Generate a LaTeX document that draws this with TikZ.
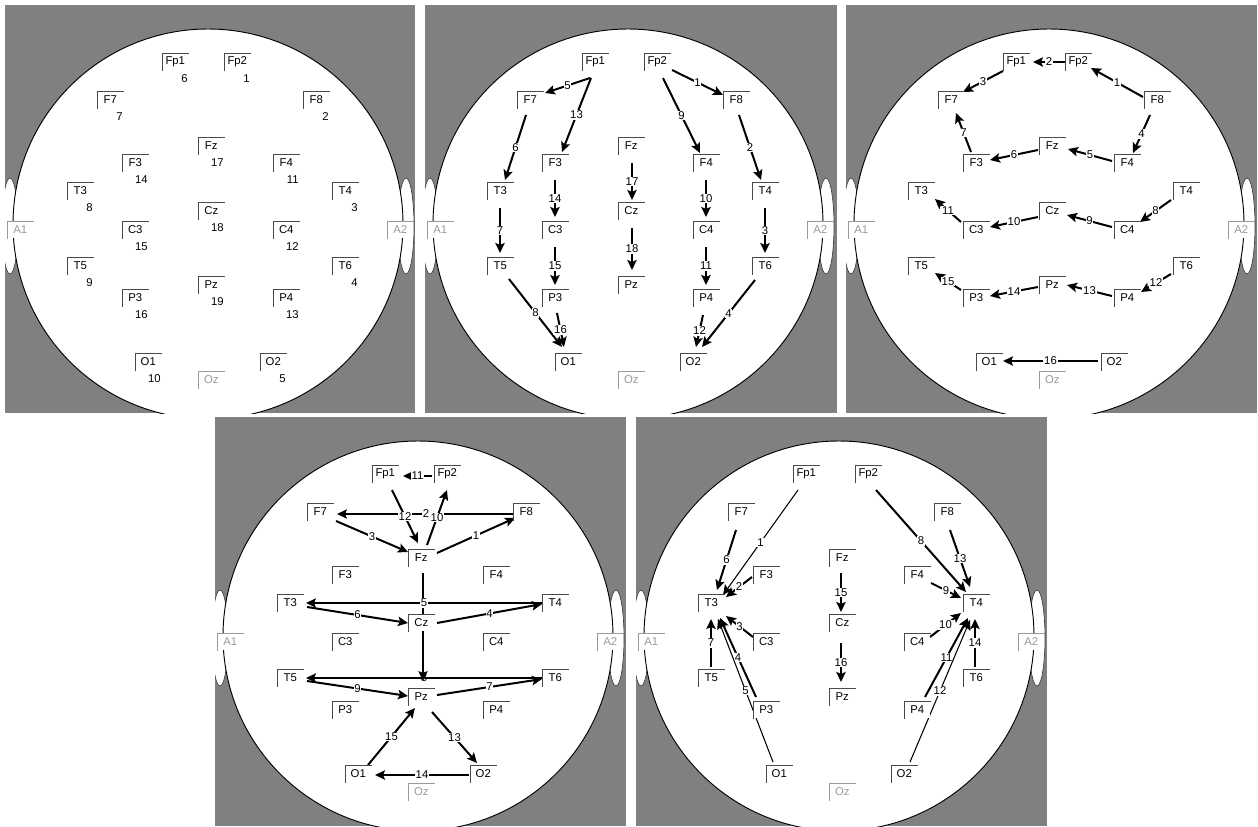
\documentclass[tikz,border=0pt]{standalone}
\usepackage{fontspec}
\setmainfont{Liberation Sans}
\usetikzlibrary{calc,arrows.meta}
\pgfdeclarelayer{back}
\pgfdeclarelayer{mid}
\pgfsetlayers{back,mid,main}
\definecolor{panelgray}{HTML}{808080}
\definecolor{dimtext}{HTML}{9A9A9A}
\definecolor{framecol}{HTML}{4A4A4A}

\newcommand\defpos[2]{\expandafter\def\csname bx#1\endcsname{#2}}
\defpos{Fp1}{157,48}\defpos{Fp2}{219,48}
\defpos{F7}{92,86}\defpos{F8}{298,86}
\defpos{Fz}{193,132}\defpos{F3}{117,149}\defpos{F4}{268,149}
\defpos{T3}{62,177}\defpos{T4}{327,177}
\defpos{Cz}{193,197}\defpos{C3}{117,216}\defpos{C4}{268,216}
\defpos{A1}{2,216}\defpos{A2}{382,216}
\defpos{T5}{62,252}\defpos{T6}{327,252}
\defpos{Pz}{193,271}\defpos{P3}{117,284}\defpos{P4}{268,284}
\defpos{O1}{130,348}\defpos{O2}{255,348}\defpos{Oz}{193,366}

\tikzset{
  x=0.75pt, y=-0.75pt,
  elec/.style={anchor=north west, minimum width=19.5pt, minimum height=12.75pt,
    inner sep=0pt, fill=white, font=\fontsize{8.5}{10}\selectfont, text=black},
  elecdim/.style={elec, text=dimtext},
  frame/.style={draw=framecol, line width=0.7pt},
  framedim/.style={draw=dimtext, line width=0.7pt},
  arr/.style={draw=black, line width=1.5pt, -{Stealth[length=7.5pt,width=7pt,inset=1.5pt]}},
  thinarr/.style={line width=0.8pt},
  lab/.style={fill=white, inner sep=0.6pt, font=\fontsize{8.5}{10}\selectfont, text=black},
  nofilllab/.style={lab/.append style={fill=none}},
  num/.style={anchor=east, inner sep=0pt, font=\fontsize{8.5}{10}\selectfont, text=black},
  earline/.style={fill=white, draw=black!75, line width=0.5pt},
  headline/.style={fill=white, draw=black, line width=0.7pt},
}

\newcommand\elec[1]{\edef\tmp{\noexpand\node[elec] (\pfx#1) at (\csname bx#1\endcsname) {#1};}\tmp
  \draw[frame] (\pfx#1.south west) -- (\pfx#1.north west) -- (\pfx#1.north east);}
\newcommand\elecdim[1]{\edef\tmp{\noexpand\node[elecdim] (\pfx#1) at (\csname bx#1\endcsname) {#1};}\tmp
  \draw[framedim] (\pfx#1.south west) -- (\pfx#1.north west) -- (\pfx#1.north east);}
\newcommand\allelec{%
  \elec{Fp1}\elec{Fp2}\elec{F7}\elec{F8}\elec{Fz}\elec{F3}\elec{F4}
  \elec{T3}\elec{T4}\elec{Cz}\elec{C3}\elec{C4}\elecdim{A1}\elecdim{A2}
  \elec{T5}\elec{T6}\elec{Pz}\elec{P3}\elec{P4}\elec{O1}\elec{O2}\elecdim{Oz}}
\newcommand\conn[6][]{\edef\tmp{\noexpand\draw[arr,#1]
  ($(\pfx#2.north west)+(#3)-(\csname bx#2\endcsname)$) -- node[lab]{#6}
  ($(\pfx#4.north west)+(#5)-(\csname bx#4\endcsname)$);}\tmp}
\newcommand\head[2]{%
  \begin{pgfonlayer}{back}
  \begin{scope}
  \fill[panelgray] (0,0) rectangle (#1,#2);
  \clip (0,0) rectangle (#1,#2);
  \path[earline] (5,221) ellipse [x radius=6pt, y radius=36pt];
  \path[earline] (401,221) ellipse [x radius=6pt, y radius=36pt];
  \path[headline] (203,219) circle [radius=146.25pt];
  \end{scope}
  \end{pgfonlayer}}
\newcommand\enum[2]{\node[num] (P1n#1) at ($(P1#1.north west)+(26,26)$) {#2};}

\begin{document}
\begin{tikzpicture}
\useasboundingbox (0,0) rectangle (1258,826);

% ---------- Panel 1 ----------
\begin{scope}[shift={(5,5)}]
\def\pfx{P1}
\head{410}{408}
\allelec
\enum{Fp1}{6}\enum{Fp2}{1}\enum{F7}{7}\enum{F8}{2}\enum{Fz}{17}
\enum{F3}{14}\enum{F4}{11}\enum{T3}{8}\enum{T4}{3}\enum{Cz}{18}
\enum{C3}{15}\enum{C4}{12}\enum{T5}{9}\enum{T6}{4}\enum{Pz}{19}
\enum{P3}{16}\enum{P4}{13}\enum{O1}{10}\enum{O2}{5}
\end{scope}

% ---------- Panel 2 ----------
\begin{scope}[shift={(425,5)}]
\def\pfx{P2}
\head{412}{408}
\allelec
\begin{pgfonlayer}{mid}
\conn{Fp2}{247,65}{F8}{298,90}{1}
\conn{F8}{314,110}{T4}{336,175}{2}
\conn{T4}{340,203}{T6}{340,248}{3}
\conn{T6}{330,275}{O2}{277,342}{4}
\conn{Fp1}{165,73}{F7}{120,88}{5}
\conn{F7}{101,110}{T3}{80,175}{6}
\conn{T3}{75,203}{T5}{75,248}{7}
\conn{T5}{84,274}{O1}{137,342}{8}
\conn{Fp2}{238,73}{F4}{275,148}{9}
\conn{F4}{281,175}{C4}{281,212}{10}
\conn{C4}{281,242}{P4}{281,280}{11}
\conn{P4}{278,310}{O2}{271,342}{12}
\conn{Fp1}{166,73}{F3}{137,147}{13}
\conn{F3}{130,175}{C3}{130,212}{14}
\conn{C3}{130,242}{P3}{130,280}{15}
\conn{P3}{132,308}{O1}{139,342}{16}
\conn{Fz}{207,158}{Cz}{207,195}{17}
\conn{Cz}{207,223}{Pz}{207,265}{18}
\end{pgfonlayer}
\end{scope}

% ---------- Panel 3 ----------
\begin{scope}[shift={(846,5)}]
\def\pfx{P3}
\head{411}{408}
\allelec
\begin{pgfonlayer}{mid}
\conn{F8}{297,92}{Fp2}{245,63}{1}
\conn{Fp2}{219,57}{Fp1}{187,57}{2}
\conn{Fp1}{157,66}{F7}{117,87}{3}
\conn{F8}{304,110}{F4}{287,148}{4}
\conn{F4}{266,156}{Fz}{222,144}{5}
\conn{Fz}{192,145}{F3}{144,155}{6}
\conn{F3}{125,147}{F7}{110,108}{7}
\conn{T4}{325,195}{C4}{294,217}{8}
\conn{C4}{266,222}{Cz}{221,210}{9}
\conn{Cz}{192,212}{C3}{144,222}{10}
\conn{C3}{115,217}{T3}{89,194}{11}
\conn{T6}{325,269}{P4}{295,287}{12}
\conn{P4}{266,291}{Pz}{221,280}{13}
\conn{Pz}{192,282}{P3}{144,291}{14}
\conn{P3}{115,285}{T5}{89,268}{15}
\conn{O2}{252,356}{O1}{157,356}{16}
\end{pgfonlayer}
\end{scope}

% ---------- Panel 4 ----------
\begin{scope}[shift={(215,417)}]
\def\pfx{P4}
\head{411}{409}
\allelec
\begin{pgfonlayer}{mid}
\draw[arr,thinarr] ($(P4Fz.north west)+(15,24)$) -- ($(P4Pz.north west)+(15,-7)$);
\conn{Fz}{222,136}{F8}{300,101}{1}
\conn[thinarr]{F8}{300,97}{F7}{122,97}{2}
\conn{F7}{121,104}{Fz}{193,135}{3}
\conn{Cz}{222,206}{T4}{327,187}{4}
\conn[thinarr]{T4}{327,186}{T3}{91,186}{5}
\conn{T3}{92,190}{Cz}{193,206}{6}
\conn{Pz}{222,278}{T6}{327,262}{7}
\conn[nofilllab]{T6}{327,261}{T5}{91,261}{8}
\conn{T5}{92,264}{Pz}{193,279}{9}
\conn{Fz}{212,128}{Fp2}{232,73}{10}
\conn{Fp2}{217,59}{Fp1}{188,59}{11}
\conn{Fp1}{177,73}{Fz}{203,126}{12}
\conn{Pz}{217,295}{O2}{262,346}{13}
\conn{O2}{254,358}{O1}{160,358}{14}
\conn{O1}{153,348}{Pz}{200,291}{15}
\end{pgfonlayer}
\end{scope}

% ---------- Panel 5 ----------
\begin{scope}[shift={(636,417)}]
\def\pfx{P5}
\head{411}{409}
\allelec
\begin{pgfonlayer}{mid}
\conn[thinarr]{Fp1}{162,73}{T3}{87,178}{1}
\conn{F3}{116,160}{T3}{90,180}{2}
\conn{C3}{117,220}{T3}{90,199}{3}
\conn{P3}{120,280}{T3}{84,201}{4}
\conn[thinarr]{O1}{137,345}{T3}{82,202}{5}
\conn{F7}{100,113}{T3}{81,173}{6}
\conn{T5}{75,250}{T3}{75,202}{7}
\conn{Fp2}{240,73}{T4}{330,175}{8}
\conn{F4}{295,166}{T4}{325,181}{9}
\conn{C4}{294,220}{T4}{325,196}{10}
\conn{P4}{289,280}{T4}{332,201}{11}
\conn[thinarr]{O2}{274,345}{T4}{334,203}{12}
\conn{F8}{314,113}{T4}{334,170}{13}
\conn{T6}{339,250}{T4}{339,202}{14}
\conn{Fz}{205,156}{Cz}{205,195}{15}
\conn{Cz}{205,226}{Pz}{205,265}{16}
\end{pgfonlayer}
\end{scope}
\end{tikzpicture}
\end{document}
